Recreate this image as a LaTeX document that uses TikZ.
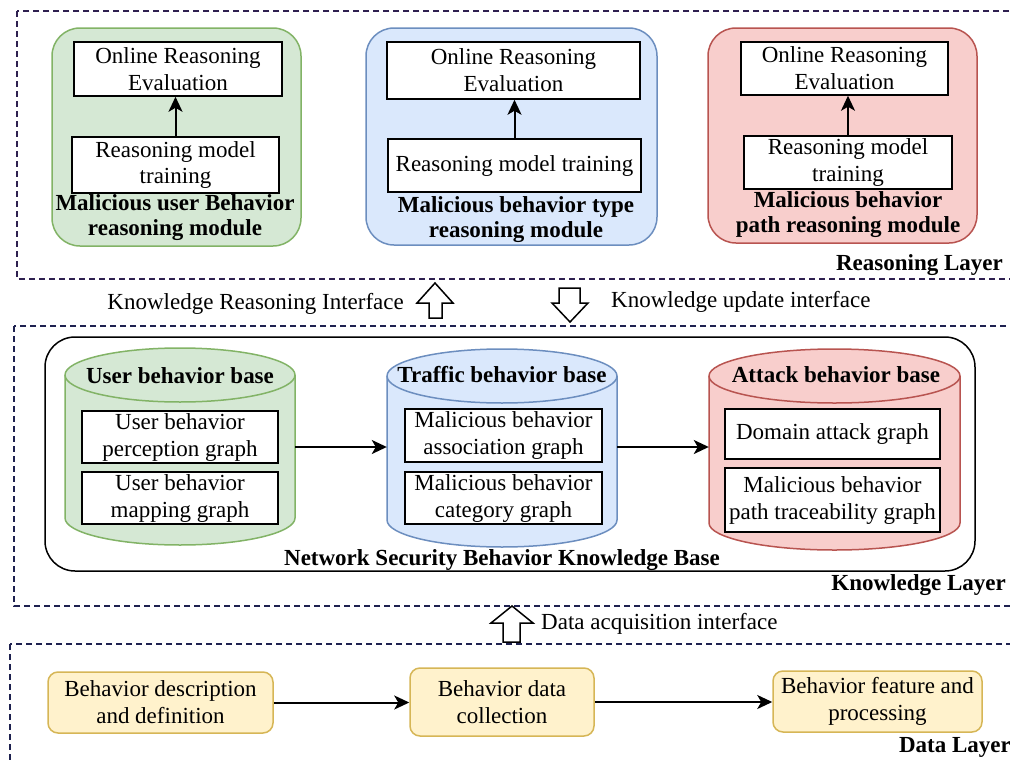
\documentclass[tikz,border=0pt]{standalone}
\usepackage{fontspec}
\setmainfont{Liberation Serif}
\usetikzlibrary{arrows.meta}

\definecolor{gfill}{HTML}{D5E8D4}\definecolor{gline}{HTML}{82B366}
\definecolor{bfill}{HTML}{DAE8FC}\definecolor{bline}{HTML}{6C8EBF}
\definecolor{rfill}{HTML}{F8CECC}\definecolor{rline}{HTML}{B85450}
\definecolor{yfill}{HTML}{FFF2CC}\definecolor{yline}{HTML}{D6B656}
\definecolor{toplayer}{HTML}{2E2050}
\definecolor{layerline}{HTML}{1E2150}

% database cylinder: name, left, right, top, bottom, fill, line
\newcommand\basecyl[7]{%
  \pgfmathsetmacro\cylrx{(#3-#2)/2}%
  \pgfmathsetmacro\cylya{-#4-27}%
  \pgfmathsetmacro\cylyb{-#5+27}%
  \pgfmathsetmacro\cylw{#3-#2}%
  \pgfmathsetmacro\cylh{#5-#4}%
  \draw[fill=#6,draw=#7,line width=1.5pt] (#2,\cylya) -- (#2,\cylyb)
    arc[start angle=180,end angle=360,x radius=\cylrx pt,y radius=27pt]
    -- (#3,\cylya)
    arc[start angle=0,end angle=180,x radius=\cylrx pt,y radius=27pt] -- cycle;
  \draw[draw=#7,line width=1.5pt] (#2,\cylya)
    arc[start angle=180,end angle=360,x radius=\cylrx pt,y radius=27pt];
  \path (#2,-#4) -- (#3,-#5) node[midway,inner sep=0pt,minimum width=\cylw pt,
    minimum height=\cylh pt] (#1) {};%
}

\begin{document}
\begin{tikzpicture}[x=1pt,y=1pt,
  font=\fontsize{23}{27}\selectfont,
  layer/.style={line width=1.5pt,dash pattern=on 6pt off 4pt},
  module/.style={rounded corners=28pt,line width=1.5pt},
  wbox/.style={draw=black,fill=white,line width=1.5pt,align=center,inner sep=0pt},
  ybox/.style={draw=yline,fill=yfill,rounded corners=10pt,line width=1.5pt,
    align=center,inner sep=0pt},
  link/.style={-{Stealth[length=15pt,width=14pt,inset=4pt]},line width=2pt},
  bold/.style={font=\fontsize{23}{25}\selectfont\bfseries,align=center,inner sep=0pt},
  plain/.style={inner sep=0pt},
  blockarrow/.style={draw=black,fill=white,line width=1.5pt,line join=miter}]

\useasboundingbox (0,0) rectangle (1010,-763);
\clip (0,0) rectangle (1010,-763);

% ---------- layers ----------
\draw[layer,draw=toplayer] (17,-11) rectangle (1030,-279);
\draw[layer,draw=layerline] (14,-326) rectangle (1030,-606);
\draw[layer,draw=layerline] (10,-644) rectangle (1030,-790);

% ---------- reasoning layer ----------
\draw[module,fill=gfill,draw=gline] (52,-28) rectangle (301,-246);
\draw[module,fill=bfill,draw=bline] (366,-28) rectangle (657,-245);
\draw[module,fill=rfill,draw=rline] (708,-28) rectangle (977,-243);

\node[wbox,minimum width=208pt,minimum height=54pt] (geval) at (178,-69)
  {Online Reasoning\\Evaluation};
\node[wbox,minimum width=207pt,minimum height=56pt] (gtrain) at (175.5,-165)
  {Reasoning model\\training};
\node[bold] (glabel) at (175,-217.5) {Malicious user Behavior\\reasoning module};

\node[wbox,minimum width=253pt,minimum height=57pt] (beval) at (513.5,-70.5)
  {Online Reasoning\\Evaluation};
\node[wbox,minimum width=253pt,minimum height=53pt] (btrain) at (514.5,-165.5)
  {Reasoning model training};
\node[bold] (blabel) at (516,-219.5) {Malicious behavior type\\reasoning module};

\node[wbox,minimum width=207pt,minimum height=53pt] (reval) at (844.5,-68.5)
  {Online Reasoning\\Evaluation};
\node[wbox,minimum width=208pt,minimum height=53pt] (rtrain) at (848,-162.5)
  {Reasoning model\\training};
\node[bold] (rlabel) at (848,-214.5) {Malicious behavior\\path reasoning module};

\draw[link] (gtrain.north) -- (gtrain.north |- geval.south);
\draw[link] (btrain.north) -- (btrain.north |- beval.south);
\draw[link] (rtrain.north) -- (rtrain.north |- reval.south);

\node[bold,anchor=east] (rlayer) at (1003,-265) {Reasoning Layer};

% ---------- interfaces ----------
\draw[blockarrow] (435,-283) -- (453,-303) -- (442,-303) -- (442,-318)
  -- (429,-318) -- (429,-303) -- (417,-303) -- cycle;
\node[plain,anchor=east] (kri) at (404,-304) {Knowledge Reasoning Interface};
\draw[blockarrow] (570,-322) -- (588,-303) -- (580,-303) -- (580,-288)
  -- (559,-288) -- (559,-303) -- (552,-303) -- cycle;
\node[plain,anchor=west] (kui) at (611,-302) {Knowledge update interface};

% ---------- knowledge layer ----------
\draw[line width=1.5pt,rounded corners=30pt] (45,-337) rectangle (975,-571);

\basecyl{ucyl}{65}{295}{348}{545}{gfill}{gline}
\basecyl{tcyl}{387}{617}{349}{547}{bfill}{bline}
\basecyl{acyl}{709}{960}{349}{550}{rfill}{rline}

\node[bold] (ulabel) at (180,-376) {User behavior base};
\node[bold] (tlabel) at (502,-375) {Traffic behavior base};
\node[bold] (alabel) at (836,-375) {Attack behavior base};

\node[wbox,minimum width=196pt,minimum height=52pt] (ub1) at (180,-437)
  {User behavior\\perception graph};
\node[wbox,minimum width=196pt,minimum height=52pt] (ub2) at (180,-498)
  {User behavior\\mapping graph};
\node[wbox,minimum width=197pt,minimum height=53pt] (tb1) at (503.5,-435.5)
  {Malicious behavior\\association graph};
\node[wbox,minimum width=197pt,minimum height=52pt] (tb2) at (503.5,-498)
  {Malicious behavior\\category graph};
\node[wbox,minimum width=215pt,minimum height=50pt] (ab1) at (832.5,-434)
  {Domain attack graph};
\node[wbox,minimum width=215pt,minimum height=64pt] (ab2) at (832.5,-500)
  {Malicious behavior\\path traceability graph};

\coordinate (kline) at (0,-447);
\draw[link] (ucyl.east |- kline) -- (tcyl.west |- kline);
\draw[link] (tcyl.east |- kline) -- (acyl.west |- kline);

\node[bold] (kbase) at (502,-560) {Network Security Behavior Knowledge Base};
\node[bold,anchor=east] (klayer) at (1006,-585) {Knowledge Layer};

% ---------- data acquisition ----------
\draw[blockarrow] (512,-606) -- (533,-623) -- (520,-623) -- (520,-642)
  -- (503,-642) -- (503,-623) -- (491,-623) -- cycle;
\node[plain,anchor=west] (dai) at (541,-624) {Data acquisition interface};

% ---------- data layer ----------
\node[ybox,minimum width=225pt,minimum height=61pt] (d1) at (160.5,-702.5)
  {Behavior description\\and definition};
\node[ybox,minimum width=184pt,minimum height=68pt] (d2) at (502,-702)
  {Behavior data\\collection};
\node[ybox,minimum width=209pt,minimum height=61pt] (d3) at (877.5,-701.5)
  {Behavior feature and\\processing};

\draw[link] (d1.east) -- (d2.west |- d1.east);
\draw[link] (d2.east) -- (d3.west |- d2.east);

\node[bold,anchor=east] (dlayer) at (1011,-747) {Data Layer};

\end{tikzpicture}
\end{document}
